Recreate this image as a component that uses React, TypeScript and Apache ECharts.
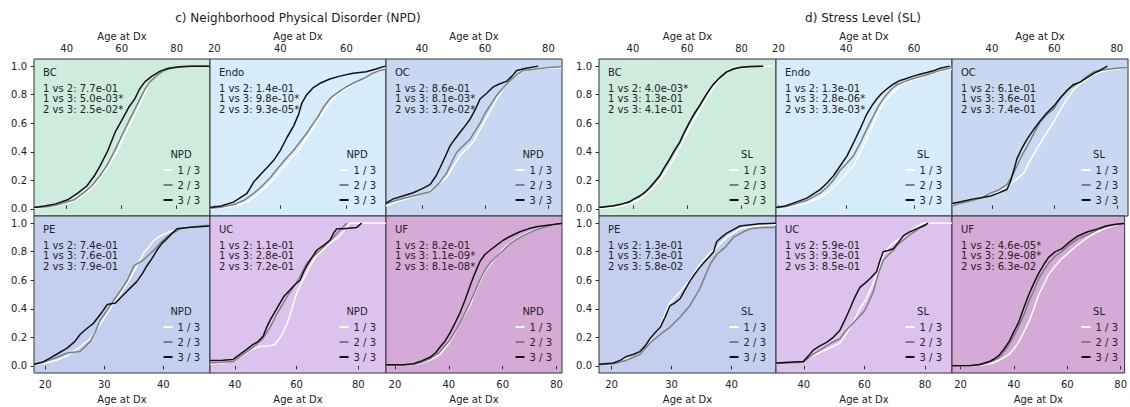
import React, { useEffect, useRef } from "react";
import * as echarts from "echarts";

// ---------------- data ----------------
const CANCERS = ["BC", "Endo", "OC", "PE", "UC", "UF"];
const LEVELS = ["1 / 3", "2 / 3", "3 / 3"];
const Y_TICKS = [0, 0.2, 0.4, 0.6, 0.8, 1.0];
const X_TICKS = [[40, 60, 80], [20, 40, 60], [40, 60, 80], [20, 30, 40], [40, 60, 80], [20, 40, 60, 80]];

const NPD_TITLE = "c) Neighborhood Physical Disorder (NPD)";
const SL_TITLE = "d) Stress Level (SL)";

const NPD_PVALUES = [
  ["1 vs 2: 7.7e-01", "1 vs 3: 5.0e-03*", "2 vs 3: 2.5e-02*"],
  ["1 vs 2: 1.4e-01", "1 vs 3: 9.8e-10*", "2 vs 3: 9.3e-05*"],
  ["1 vs 2: 8.6e-01", "1 vs 3: 8.1e-03*", "2 vs 3: 3.7e-02*"],
  ["1 vs 2: 7.4e-01", "1 vs 3: 7.6e-01", "2 vs 3: 7.9e-01"],
  ["1 vs 2: 1.1e-01", "1 vs 3: 2.8e-01", "2 vs 3: 7.2e-01"],
  ["1 vs 2: 8.2e-01", "1 vs 3: 1.1e-09*", "2 vs 3: 8.1e-08*"],
];
const SL_PVALUES = [
  ["1 vs 2: 4.0e-03*", "1 vs 3: 1.3e-01", "2 vs 3: 4.1e-01"],
  ["1 vs 2: 1.3e-01", "1 vs 3: 2.8e-06*", "2 vs 3: 3.3e-03*"],
  ["1 vs 2: 6.1e-01", "1 vs 3: 3.6e-01", "2 vs 3: 7.4e-01"],
  ["1 vs 2: 1.3e-01", "1 vs 3: 7.3e-01", "2 vs 3: 5.8e-02"],
  ["1 vs 2: 5.9e-01", "1 vs 3: 9.3e-01", "2 vs 3: 8.5e-01"],
  ["1 vs 2: 4.6e-05*", "1 vs 3: 2.9e-08*", "2 vs 3: 6.3e-02"],
];

const NPD_RANGES = [[28.1, 92.1], [18.7, 72], [28.7, 84.3], [18.1, 47.9], [31.9, 89], [16.7, 82]];
const SL_RANGES = [[27.5, 92.7], [19.3, 71.2], [27.2, 83.6], [17.9, 47.4], [30.8, 88.9], [16.8, 81.5]];

// ECDF curves: [age, cumulative fraction]
const NPD_BC_1 = [[28.1,0.005],[34,0.015],[38,0.03],[43,0.06],[46.5,0.105],[49.7,0.16],[52.5,0.225],[55.2,0.30],[58.5,0.41],[61.5,0.537],[64,0.63],[67.5,0.772],[69,0.84],[70.5,0.89],[72.5,0.93],[75,0.965],[78,0.985],[82,0.995],[87,1.0],[92.1,1.0]];
const NPD_BC_2 = [[28.1,0.01],[33,0.015],[37,0.03],[43,0.066],[46,0.11],[49.1,0.16],[52,0.23],[54.5,0.30],[57.5,0.41],[60.6,0.537],[63,0.63],[66.7,0.772],[68.5,0.84],[70.3,0.89],[72.5,0.93],[75,0.965],[78,0.985],[82,0.995],[86,1.0],[92.1,1.0]];
const NPD_BC_3 = [[28.1,0.01],[32,0.02],[36,0.035],[40.6,0.066],[44,0.11],[47.3,0.16],[50,0.23],[52.1,0.30],[55,0.41],[57.6,0.537],[60,0.62],[62.5,0.71],[64.8,0.772],[66.5,0.84],[68.4,0.89],[71,0.93],[74,0.965],[77,0.985],[81,0.995],[85,1.0],[92.1,1.0]];

const NPD_ENDO_1 = [[18.7,0.003],[23,0.01],[27,0.025],[30,0.05],[32.5,0.09],[35,0.14],[38,0.21],[40.5,0.28],[43,0.35],[45.4,0.407],[47.5,0.48],[50.5,0.583],[52.5,0.66],[54.5,0.73],[56,0.772],[58,0.81],[60,0.845],[63,0.885],[66,0.92],[69,0.96],[72,0.985]];
const NPD_ENDO_2 = [[18.7,0.005],[22,0.012],[26,0.03],[29,0.06],[31.8,0.106],[34,0.15],[37,0.22],[39.4,0.29],[42,0.36],[43.9,0.407],[46,0.47],[48,0.53],[49.5,0.583],[51.5,0.65],[53,0.71],[55,0.772],[57,0.81],[59.1,0.842],[62,0.88],[65.2,0.913],[68,0.95],[70.3,0.97],[72,0.98]];
const NPD_ENDO_3 = [[18.7,0.01],[22,0.02],[25.8,0.047],[29.8,0.106],[31,0.15],[32,0.19],[34,0.24],[36,0.29],[38,0.34],[40,0.41],[42,0.5],[44,0.58],[45.5,0.66],[46.5,0.74],[48,0.8],[50,0.85],[52,0.88],[55,0.91],[58,0.93],[62,0.95],[66,0.96],[69,0.98],[71.7,1.0]];

const NPD_OC_1 = [[28.7,0.02],[32,0.05],[37.3,0.085],[42,0.12],[45,0.17],[47.9,0.22],[50,0.3],[52,0.37],[54,0.42],[56.3,0.47],[58,0.54],[59.5,0.6],[61.5,0.68],[63.7,0.77],[66,0.85],[69,0.92],[71,0.955],[73.2,0.975],[78,0.985],[84.3,0.99]];
const NPD_OC_2 = [[28.7,0.035],[32,0.06],[37.3,0.09],[42.6,0.12],[45.5,0.18],[47.9,0.254],[49.5,0.33],[51,0.395],[53,0.44],[55.3,0.49],[57,0.55],[58.4,0.6],[60,0.67],[61.6,0.725],[63.5,0.79],[65.8,0.85],[68,0.9],[70,0.94],[72.1,0.97],[76,0.98],[80,0.99],[84.3,0.995]];
const NPD_OC_3 = [[28.7,0.04],[31,0.07],[34,0.09],[37.3,0.113],[40,0.14],[42.6,0.17],[44.5,0.23],[45.8,0.29],[47.5,0.37],[48.9,0.44],[50.5,0.49],[52.1,0.537],[54,0.59],[55.3,0.63],[57,0.7],[58.4,0.77],[60.5,0.81],[62.6,0.855],[64.5,0.875],[66.9,0.895],[68.5,0.93],[70,0.97],[73,0.985],[76.8,1.0]];

const NPD_PE_1 = [[18.1,0.01],[20,0.02],[22,0.04],[23.7,0.07],[25.5,0.12],[27.6,0.19],[29.3,0.29],[30.5,0.37],[31.6,0.44],[32.8,0.51],[33.9,0.58],[35,0.66],[36,0.74],[36.8,0.8],[37.5,0.83],[38.4,0.88],[39.5,0.91],[41,0.94],[42.5,0.96],[44,0.975],[47.9,0.98]];
const NPD_PE_2 = [[18.1,0.01],[20,0.03],[22,0.06],[23.7,0.09],[25.9,0.1],[27.6,0.17],[28.5,0.24],[29.3,0.32],[30.5,0.39],[31.6,0.46],[32.8,0.53],[33.9,0.6],[35,0.7],[36.7,0.745],[38.4,0.81],[39.5,0.86],[40.6,0.905],[42,0.94],[42.9,0.96],[45,0.975],[47.9,0.985]];
const NPD_PE_3 = [[18.1,0.012],[19.5,0.025],[20.8,0.054],[22.3,0.09],[23.7,0.124],[25,0.17],[25.9,0.22],[27,0.26],[28.2,0.3],[29.5,0.37],[30.5,0.43],[31.9,0.44],[33.3,0.5],[34.5,0.55],[35.5,0.59],[36.5,0.65],[37.2,0.7],[38.2,0.76],[38.9,0.81],[39.8,0.86],[40.6,0.89],[41.5,0.93],[42.3,0.96],[44,0.97],[47.9,0.98]];

const NPD_UC_1 = [[31.9,0.015],[36,0.02],[40,0.04],[43,0.08],[45.9,0.12],[48,0.135],[51,0.14],[53,0.15],[55,0.21],[56.8,0.29],[58.5,0.4],[60,0.51],[62,0.6],[64.4,0.7],[66.5,0.77],[69.8,0.84],[71.5,0.87],[73.5,0.9],[75.5,0.95],[77.3,1.0],[89,1.0]];
const NPD_UC_2 = [[31.9,0.02],[36,0.025],[39.4,0.03],[42,0.07],[45.9,0.13],[49,0.19],[51.4,0.27],[53.5,0.36],[55.7,0.44],[57.3,0.5],[58.9,0.55],[61,0.62],[63.3,0.72],[65.5,0.77],[67.6,0.81],[70,0.86],[71.9,0.9],[74,0.95],[76.3,1.0]];
const NPD_UC_3 = [[31.9,0.037],[36,0.04],[39.4,0.045],[41.6,0.08],[43.5,0.11],[45.9,0.15],[47.5,0.17],[49.2,0.21],[50.3,0.27],[51.4,0.32],[53,0.38],[54.6,0.44],[56,0.49],[57.9,0.533],[59.5,0.57],[61.1,0.6],[62.3,0.66],[63.3,0.7],[65,0.76],[66.5,0.81],[68.5,0.84],[70.8,0.88],[72,0.93],[73,0.96],[75.2,0.96],[79.5,0.97],[81.1,1.0]];

const NPD_UF_1 = [[16.7,0.003],[23.1,0.004],[27,0.01],[30,0.02],[33,0.04],[35,0.06],[36.7,0.08],[38.5,0.12],[40.4,0.17],[42.3,0.23],[44.1,0.3],[46,0.36],[47.8,0.42],[49.7,0.51],[51.5,0.59],[53.4,0.66],[55.3,0.71],[57.8,0.77],[60.2,0.82],[63,0.865],[66.4,0.905],[69.5,0.935],[72.6,0.96],[76,0.98],[79,0.99],[82,1.0]];
const NPD_UF_2 = [[16.7,0.005],[23.1,0.006],[27,0.012],[30,0.025],[33,0.05],[35,0.075],[36.7,0.1],[38.5,0.14],[40.4,0.18],[42.3,0.24],[44.1,0.3],[46,0.37],[47.8,0.44],[49.7,0.52],[51.5,0.6],[53.4,0.67],[55.3,0.72],[57.8,0.77],[60.2,0.81],[63,0.86],[66.4,0.9],[69.5,0.93],[72.6,0.955],[76,0.975],[78.7,0.99],[82,0.995]];
const NPD_UF_3 = [[16.7,0.007],[23.1,0.007],[27,0.015],[29.3,0.03],[33,0.06],[35,0.09],[36.7,0.13],[38.5,0.17],[40.4,0.23],[42.3,0.3],[44.1,0.37],[46,0.46],[47.8,0.556],[49.7,0.65],[51.5,0.73],[53.4,0.78],[55.3,0.81],[58,0.85],[60.2,0.88],[63,0.91],[66.4,0.94],[69.5,0.96],[72.6,0.975],[78.7,0.99],[82,1.0]];

const SL_BC_1 = [[27.5,0.005],[32.6,0.012],[36,0.02],[38.8,0.035],[40.5,0.05],[42.5,0.07],[44.3,0.095],[46.1,0.125],[48,0.16],[49.8,0.2],[51.6,0.25],[53.5,0.3],[55.3,0.36],[57.2,0.43],[59,0.5],[60.9,0.57],[62.7,0.63],[64.6,0.69],[67,0.77],[69.5,0.85],[72,0.91],[74.5,0.955],[77,0.975],[79.4,0.985],[84,0.995],[91.6,1.0]];
const SL_BC_2 = [[27.5,0.012],[32.6,0.022],[36,0.033],[38.8,0.05],[40.5,0.068],[42.5,0.088],[44.3,0.112],[46.1,0.145],[48,0.185],[49.8,0.228],[51.6,0.285],[53.5,0.345],[55.3,0.405],[57.2,0.462],[59,0.535],[60.9,0.605],[62.7,0.668],[64.6,0.722],[67,0.8],[69.5,0.868],[72,0.918],[74.5,0.958],[77,0.978],[79.4,0.99],[83,0.996],[88,1.0]];
const SL_BC_3 = [[27.5,0.01],[32.6,0.02],[36,0.035],[38.8,0.05],[40.5,0.07],[42.5,0.09],[44.3,0.115],[46.1,0.148],[48,0.19],[49.8,0.23],[51.6,0.29],[53.5,0.348],[55.3,0.41],[57.2,0.466],[59,0.54],[60.9,0.61],[62.7,0.67],[64.6,0.725],[67,0.8],[69.5,0.87],[72,0.92],[74.5,0.96],[77,0.98],[79.4,0.99],[83,0.997],[88,1.0]];

const SL_ENDO_1 = [[19.3,0.005],[22,0.01],[24.4,0.02],[28.4,0.04],[32.3,0.08],[34.3,0.11],[36.2,0.15],[38.2,0.2],[40.2,0.25],[42.1,0.3],[44.1,0.39],[46.1,0.49],[48,0.6],[49.5,0.68],[51,0.74],[52,0.77],[54,0.82],[55.9,0.865],[58,0.89],[60.5,0.91],[63.5,0.935],[66,0.955],[68.5,0.97],[71.2,0.98]];
const SL_ENDO_2 = [[19.3,0.008],[22,0.015],[24.4,0.03],[28.4,0.06],[32.3,0.11],[34.3,0.15],[36.2,0.2],[38.2,0.27],[40.2,0.32],[42.1,0.37],[44.1,0.46],[46.1,0.56],[48,0.65],[49.5,0.72],[51.5,0.79],[53.4,0.84],[55,0.87],[57,0.89],[60,0.915],[63.8,0.94],[67,0.965],[70.6,0.985],[71.2,0.99]];
const SL_ENDO_3 = [[19.3,0.01],[22,0.02],[24.4,0.04],[28.4,0.075],[32.3,0.135],[34.3,0.18],[36.2,0.23],[38.2,0.3],[40.2,0.37],[42.1,0.46],[44.1,0.56],[46.1,0.666],[47.5,0.72],[49,0.77],[50.5,0.81],[52,0.84],[54,0.875],[55.9,0.9],[58,0.915],[59.8,0.93],[62,0.945],[63.8,0.955],[66,0.97],[67.7,0.985],[70.6,1.0]];

const SL_OC_1 = [[27.2,0.025],[30,0.04],[34,0.06],[37,0.08],[40,0.1],[42,0.12],[44.8,0.16],[47.5,0.2],[50.2,0.25],[52,0.33],[53.8,0.4],[55.5,0.46],[57.5,0.53],[59.8,0.61],[61.9,0.69],[64.1,0.77],[66,0.83],[68.4,0.88],[70.5,0.91],[72,0.935],[74.9,0.96],[78,0.975],[83.6,0.99]];
const SL_OC_2 = [[27.2,0.02],[30,0.04],[34,0.06],[37,0.08],[39.5,0.11],[42,0.13],[44.8,0.17],[46.5,0.23],[48,0.3],[49.5,0.37],[51.3,0.44],[53.5,0.53],[55.5,0.61],[57.5,0.66],[59.8,0.7],[62,0.78],[64,0.83],[66,0.86],[68.4,0.89],[70.5,0.93],[72.7,0.96],[76,0.975],[80,0.985],[83.6,0.99]];
const SL_OC_3 = [[27.2,0.037],[30,0.05],[34.1,0.07],[37,0.08],[39.5,0.09],[42,0.11],[44.8,0.136],[45.9,0.19],[47,0.27],[48,0.35],[49.5,0.42],[51.3,0.49],[53.5,0.56],[55.5,0.618],[57.5,0.67],[59.8,0.72],[62,0.78],[64.1,0.83],[66,0.87],[68.4,0.89],[70.5,0.92],[72.7,0.95],[75,0.975],[77,1.0]];

const SL_PE_1 = [[17.9,0.01],[20.3,0.02],[22.5,0.055],[24.7,0.1],[26.4,0.18],[28.1,0.28],[29.7,0.44],[31.4,0.52],[33,0.6],[34.7,0.71],[36.4,0.79],[37.5,0.83],[39.2,0.9],[41.4,0.96],[44,0.98],[47.4,0.99]];
const SL_PE_2 = [[17.9,0.01],[20.3,0.015],[22.5,0.04],[24.7,0.08],[26.4,0.16],[28.1,0.22],[29.7,0.27],[31.4,0.34],[33,0.42],[34.7,0.54],[35.5,0.62],[36.4,0.71],[37.5,0.78],[38.9,0.83],[40.3,0.9],[42,0.94],[43.1,0.96],[45,0.97],[47.4,0.97]];
const SL_PE_3 = [[17.9,0.012],[20.3,0.02],[21.5,0.04],[22.5,0.066],[23.6,0.08],[24.7,0.1],[25.6,0.14],[26.4,0.19],[27.2,0.23],[28.1,0.27],[28.9,0.34],[29.7,0.42],[30.5,0.44],[31.4,0.47],[32.2,0.53],[33,0.59],[33.8,0.64],[34.7,0.69],[35.5,0.73],[36.4,0.77],[37,0.8],[37.5,0.87],[38.3,0.9],[39.2,0.93],[40.3,0.955],[41.4,0.98],[44.7,0.995],[47.4,1.0]];

const SL_UC_1 = [[30.8,0.012],[35,0.02],[39.8,0.028],[43,0.07],[46,0.1],[49,0.13],[51.9,0.16],[53.5,0.21],[56.2,0.3],[58.5,0.4],[60.6,0.47],[62.5,0.56],[64,0.64],[65.2,0.72],[66.2,0.78],[68,0.83],[69.5,0.86],[71.5,0.89],[73.9,0.92],[76,0.96],[78.4,0.99],[80,1.0],[88.9,1.0]];
const SL_UC_2 = [[30.8,0.015],[35,0.02],[39.8,0.025],[43,0.08],[46,0.12],[49,0.16],[51.9,0.19],[54,0.25],[55.9,0.29],[58,0.34],[59.8,0.38],[61.5,0.45],[62.9,0.52],[64.5,0.64],[66.2,0.74],[68,0.78],[69.5,0.81],[71,0.85],[72.8,0.88],[75,0.92],[77.2,0.95],[79,0.98],[80.5,0.99]];
const SL_UC_3 = [[30.8,0.02],[35,0.025],[39.8,0.03],[41.5,0.07],[43.1,0.11],[45.3,0.14],[47.5,0.165],[49.7,0.2],[51.9,0.25],[53.5,0.32],[55.2,0.4],[56.8,0.48],[58.5,0.55],[60.2,0.58],[61.8,0.61],[64,0.66],[65,0.73],[66.2,0.8],[68,0.81],[69.5,0.82],[71,0.86],[72.8,0.91],[75,0.94],[77.2,0.96],[79.5,0.98],[81,1.0]];

const SL_UF_1 = [[16.8,0.0],[24,0.0],[27.1,0.005],[29,0.01],[30.8,0.015],[32.7,0.025],[34.5,0.04],[36.4,0.06],[38.2,0.08],[40,0.12],[41.9,0.17],[43.8,0.24],[45.6,0.31],[47.5,0.4],[49.3,0.5],[51.2,0.57],[53,0.64],[55.5,0.7],[57.9,0.75],[61,0.8],[64,0.85],[67.7,0.9],[71.4,0.94],[74.5,0.965],[77.6,0.985],[81.5,1.0]];
const SL_UF_2 = [[16.8,0.0],[24,0.002],[27.1,0.008],[29,0.015],[30.8,0.025],[32.7,0.04],[34.5,0.06],[36.4,0.1],[38.2,0.15],[40,0.21],[41.9,0.28],[43.8,0.36],[45.6,0.45],[47.5,0.53],[49.3,0.61],[51.2,0.67],[53,0.72],[55.5,0.77],[57.9,0.8],[61,0.85],[64,0.89],[67.7,0.92],[71.4,0.955],[74.5,0.975],[77.6,0.99],[81.5,0.995]];
const SL_UF_3 = [[16.8,0.0],[24,0.003],[27.1,0.01],[29,0.02],[30.8,0.03],[32.7,0.05],[34.5,0.075],[36.4,0.12],[38.2,0.17],[40,0.24],[41.9,0.31],[43.8,0.41],[45.6,0.5],[47.5,0.58],[49.3,0.65],[51.2,0.71],[53,0.76],[55.5,0.8],[57.9,0.82],[61,0.87],[64,0.91],[67.7,0.94],[71.4,0.96],[74.5,0.98],[77.6,0.99],[81.5,1.0]];

const NPD_CURVES = [
  [NPD_BC_1, NPD_BC_2, NPD_BC_3],
  [NPD_ENDO_1, NPD_ENDO_2, NPD_ENDO_3],
  [NPD_OC_1, NPD_OC_2, NPD_OC_3],
  [NPD_PE_1, NPD_PE_2, NPD_PE_3],
  [NPD_UC_1, NPD_UC_2, NPD_UC_3],
  [NPD_UF_1, NPD_UF_2, NPD_UF_3],
];
const SL_CURVES = [
  [SL_BC_1, SL_BC_2, SL_BC_3],
  [SL_ENDO_1, SL_ENDO_2, SL_ENDO_3],
  [SL_OC_1, SL_OC_2, SL_OC_3],
  [SL_PE_1, SL_PE_2, SL_PE_3],
  [SL_UC_1, SL_UC_2, SL_UC_3],
  [SL_UF_1, SL_UF_2, SL_UF_3],
];

// ---------------- style / layout ----------------
const FONT = "DejaVu Sans";
const TEXT_COLOR = "#222222";
const LINE_COLORS = ["#ffffff", "#7f7f7f", "#111111"];
const PANEL_BG = ["#cdecde", "#d6ecfa", "#c8d8f3", "#c4cff0", "#dec2ee", "#d6aad6"];

const FIGURES = [
  { title: NPD_TITLE, titleX: 298, legendTitle: "NPD", cols: [34, 210, 386, 562], pvalues: NPD_PVALUES, ranges: NPD_RANGES, curves: NPD_CURVES },
  { title: SL_TITLE, titleX: 863, legendTitle: "SL", cols: [599, 776, 952, 1128], pvalues: SL_PVALUES, ranges: SL_RANGES, curves: SL_CURVES },
];
const ROWS = [59, 216, 373];

function buildOption() {
  const grid: any[] = [];
  const xAxis: any[] = [];
  const yAxis: any[] = [];
  const series: any[] = [];
  const legend: any[] = [];
  const graphic: any[] = [];

  FIGURES.forEach((fig) => {
    graphic.push({
      type: "text",
      x: fig.titleX,
      y: 18,
      style: { text: fig.title, font: `12px "${FONT}"`, fill: TEXT_COLOR, align: "center", verticalAlign: "middle" },
    });
    CANCERS.forEach((cancer, p) => {
      const row = Math.floor(p / 3);
      const col = p % 3;
      const left = fig.cols[col];
      const right = fig.cols[col + 1];
      const top = ROWS[row];
      const bottom = ROWS[row + 1];
      const idx = grid.length;
      grid.push({
        left,
        top,
        width: right - left,
        height: bottom - top,
        show: true,
        backgroundColor: PANEL_BG[p],
        borderColor: "#333333",
        borderWidth: 1,
      });
      const ticks = X_TICKS[p];
      xAxis.push({
        gridIndex: idx,
        type: "value",
        position: row === 0 ? "top" : "bottom",
        min: fig.ranges[p][0],
        max: fig.ranges[p][1],
        name: "Age at Dx",
        nameLocation: "middle",
        nameGap: row === 0 ? 18 : 21,
        nameTextStyle: { fontSize: 10, fontFamily: FONT, color: TEXT_COLOR },
        axisLine: { show: false },
        axisTick: { show: true, length: 3.5, customValues: ticks, lineStyle: { color: "#333" } },
        axisLabel: { customValues: ticks, fontSize: 10, fontFamily: FONT, color: TEXT_COLOR, margin: 6 },
        splitLine: { show: false },
      });
      yAxis.push({
        gridIndex: idx,
        type: "value",
        min: -0.05,
        max: 1.05,
        axisLine: { show: false },
        axisTick: { show: col === 0, length: 3.5, customValues: Y_TICKS, lineStyle: { color: "#333" } },
        axisLabel: {
          show: col === 0,
          customValues: Y_TICKS,
          fontSize: 10,
          fontFamily: FONT,
          color: TEXT_COLOR,
          margin: 7,
          formatter: (v: number) => v.toFixed(1),
        },
        splitLine: { show: false },
      });
      fig.curves[p].forEach((curve, k) => {
        series.push({
          type: "line",
          name: LEVELS[k],
          xAxisIndex: idx,
          yAxisIndex: idx,
          data: curve,
          showSymbol: false,
          symbol: "none",
          silent: true,
          color: LINE_COLORS[k],
          lineStyle: { width: 1.5, color: LINE_COLORS[k] },
          z: 2 + k,
        });
      });
      legend.push({
        data: LEVELS,
        orient: "vertical",
        right: 1130 - (right - 10),
        top: bottom - 52,
        icon: "rect",
        itemWidth: 9,
        itemHeight: 2,
        itemGap: 3,
        padding: 0,
        selectedMode: false,
        textStyle: { fontSize: 10, fontFamily: FONT, color: TEXT_COLOR, lineHeight: 12 },
      });
      graphic.push({
        type: "text",
        x: right - 29,
        y: bottom - 61.5,
        style: { text: fig.legendTitle, font: `10px "${FONT}"`, fill: TEXT_COLOR, align: "center", verticalAlign: "middle" },
      });
      graphic.push({
        type: "text",
        x: left + 9,
        y: top + 13,
        style: { text: cancer, font: `10px "${FONT}"`, fill: TEXT_COLOR, align: "left", verticalAlign: "middle" },
      });
      fig.pvalues[p].forEach((line, j) => {
        graphic.push({
          type: "text",
          x: left + 9,
          y: top + 29.3 + j * 10.5,
          style: { text: line, font: `10px "${FONT}"`, fill: TEXT_COLOR, align: "left", verticalAlign: "middle" },
        });
      });
    });
  });

  return {
    animation: false,
    backgroundColor: "#ffffff",
    textStyle: { fontFamily: FONT },
    grid,
    xAxis,
    yAxis,
    series,
    legend,
    graphic,
  };
}

export default function App() {
  const ref = useRef<HTMLDivElement>(null);
  useEffect(() => {
    if (!ref.current) return;
    const chart = echarts.init(ref.current, null, { renderer: "svg" });
    chart.setOption(buildOption() as any);
    return () => chart.dispose();
  }, []);
  return <div ref={ref} style={{ position: "absolute", left: 0, top: 0, width: 1130, height: 407 }} />;
}
